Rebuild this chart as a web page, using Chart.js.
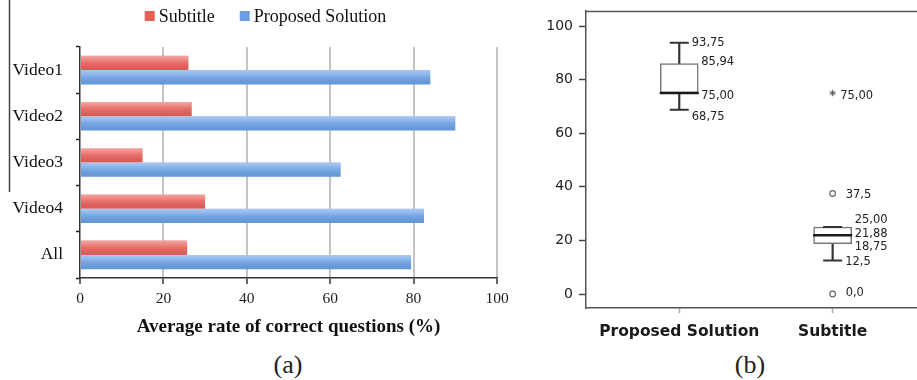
<!DOCTYPE html>
<html>
<head>
<meta charset="utf-8">
<script src="https://cdn.jsdelivr.net/npm/chart.js@4.4.1/dist/chart.umd.min.js"></script>
<style>
  html, body { margin: 0; padding: 0; background: #fff; width: 917px; height: 380px; overflow: hidden; }
  #wrapA { position: absolute; left: 0; top: 0; }
  #wrapB { position: absolute; left: 520px; top: 0; }
  .panel-tag { position: absolute; font-family: 'Liberation Serif', serif; font-size: 26px; color: #222;
               transform: translate(-50%, -50%); line-height: 1; }
</style>
</head>
<body>
<div id="wrapA"><canvas id="rates" width="520" height="341"></canvas></div>
<div id="wrapB"><canvas id="spread" width="397" height="345"></canvas></div>
<div class="panel-tag" style="left:288px; top:365px;">(a)</div>
<div class="panel-tag" style="left:750px; top:365px;">(b)</div>

<script>
// ---- (a) average rate of correct answers per video ----
const videos = ['Video1', 'Video2', 'Video3', 'Video4', 'All'];
const subtitleRate = [26, 26.8, 15, 30, 25.7];
const proposedRate = [84, 90, 62.5, 82.5, 79.4];
const rateTicks = [0, 20, 40, 60, 80, 100];

// ---- (b) score distribution per condition ----
const groups = ['Proposed Solution', 'Subtitle'];
const lowWhisker = [68.75, 12.5];
const lowerQuartile = [75.00, 18.75];
const medianScore = [75.00, 21.88];
const upperQuartile = [85.94, 25.00];
const highWhisker = [93.75, 25.00];
const mildOutliers = [[], [37.5, 0]];
const extremeOutliers = [[], [75]];
const scoreTicks = [0, 20, 40, 60, 80, 100];

const SERIF = 'Liberation Serif';
const SANS = 'DejaVu Sans';

// glossy highlight over each bar
const barSheen = {
  id: 'barSheen',
  afterDatasetsDraw(chart) {
    const ctx = chart.ctx;
    chart.data.datasets.forEach((ds, i) => {
      chart.getDatasetMeta(i).data.forEach(bar => {
        const { x, y, base, height } = bar.getProps(['x', 'y', 'base', 'height'], true);
        const top = y - height / 2;
        const g = ctx.createLinearGradient(0, top, 0, top + height);
        g.addColorStop(0, 'rgba(255,255,255,0.45)');
        g.addColorStop(0.45, 'rgba(255,255,255,0.12)');
        g.addColorStop(1, 'rgba(0,0,0,0.06)');
        ctx.save();
        ctx.fillStyle = g;
        ctx.fillRect(Math.min(base, x), top, Math.abs(x - base), height);
        ctx.restore();
      });
    });
  }
};

// thin rule at the far left edge
const sideRule = {
  id: 'sideRule',
  beforeDraw(chart) {
    const ctx = chart.ctx;
    ctx.save();
    ctx.strokeStyle = '#444';
    ctx.lineWidth = 1.5;
    ctx.beginPath();
    ctx.moveTo(9.5, 0);
    ctx.lineTo(9.5, 192);
    ctx.stroke();
    ctx.restore();
  }
};

// compact legend row above the bars
const serifLegend = {
  id: 'serifLegend',
  afterDraw(chart) {
    const ctx = chart.ctx;
    ctx.save();
    ctx.font = '18px "' + SERIF + '"';
    ctx.textBaseline = 'middle';
    ctx.textAlign = 'left';
    const box = 10, gapText = 4, gapItem = 25, cy = 16;
    const items = chart.data.datasets.map(d => ({
      text: d.label, color: d.backgroundColor,
      w: box + gapText + ctx.measureText(d.label).width
    }));
    const total = items.reduce((s, it) => s + it.w, 0) + gapItem * (items.length - 1);
    let x = 265.5 - total / 2;
    items.forEach(it => {
      ctx.fillStyle = it.color;
      ctx.fillRect(x, cy - box / 2, box, box);
      ctx.fillStyle = '#111';
      ctx.fillText(it.text, x + box + gapText, cy + 1);
      x += it.w + gapItem;
    });
    ctx.restore();
  }
};

new Chart(document.getElementById('rates'), {
  type: 'bar',
  data: {
    labels: videos,
    datasets: [
      { label: 'Subtitle', data: subtitleRate, backgroundColor: '#e6605a',
        categoryPercentage: 0.62, barPercentage: 1 },
      { label: 'Proposed Solution', data: proposedRate, backgroundColor: '#6a9fe4',
        categoryPercentage: 0.62, barPercentage: 1 }
    ]
  },
  options: {
    indexAxis: 'y',
    responsive: false,
    animation: false,
    events: [],
    layout: { autoPadding: false, padding: { top: 47, left: 0, right: 23, bottom: 0 } },
    plugins: { legend: { display: false }, tooltip: { enabled: false } },
    scales: {
      x: {
        type: 'linear', min: 0, max: 100,
        afterBuildTicks: s => { s.ticks = rateTicks.map(v => ({ value: v })); },
        grid: {
          color: c => (c.tick && c.tick.value === 0) ? 'rgba(0,0,0,0)' : '#c4c4c4',
          lineWidth: 2, tickColor: '#333', tickLength: 6, tickWidth: 1.5
        },
        border: { display: true, color: '#333', width: 1.5 },
        ticks: { font: { family: SERIF, size: 15.5 }, color: '#222', padding: 6 },
        title: {
          display: true, text: 'Average rate of correct questions (%)',
          font: { family: SERIF, size: 19, weight: 'bold' }, color: '#111',
          padding: { top: 4, bottom: 3 }
        },
        afterFit: s => { s.height = 63; }
      },
      y: {
        grid: { drawOnChartArea: false, offset: true, tickLength: 4, tickColor: '#222', tickWidth: 1.5 },
        border: { display: true, color: '#333', width: 1.5 },
        ticks: { font: { family: SERIF, size: 17.5 }, color: '#111', padding: 13 },
        afterFit: s => { s.width = 80; }
      }
    }
  },
  plugins: [sideRule, barSheen, serifLegend]
});

// top edge of the box-plot frame
const frameTop = {
  id: 'frameTop',
  afterDraw(chart) {
    const { left, right, top } = chart.chartArea;
    const ctx = chart.ctx;
    ctx.save();
    ctx.strokeStyle = '#555';
    ctx.lineWidth = 1.5;
    ctx.beginPath();
    ctx.moveTo(left, top + 0.5);
    ctx.lineTo(right, top + 0.5);
    ctx.stroke();
    ctx.restore();
  }
};

// value labels beside the box-plot marks
const valueNotes = {
  id: 'valueNotes',
  afterDatasetsDraw(chart) {
    const xs = chart.scales.x, ys = chart.scales.y, ctx = chart.ctx;
    const fmt = (v, d) => v.toFixed(d).replace('.', ',');
    const shift = { cap: 12.5, box: 22, dot: 13, star: 7.5 };
    const notes = [
      [0, highWhisker[0], 2, 'cap', 0],
      [0, upperQuartile[0], 2, 'box', -2],
      [0, medianScore[0], 2, 'box', 3],
      [0, lowWhisker[0], 2, 'cap', 7],
      [1, upperQuartile[1], 2, 'box', -7],
      [1, medianScore[1], 2, 'box', -1],
      [1, lowerQuartile[1], 2, 'box', 3],
      [1, lowWhisker[1], 1, 'cap', 1.5],
      [1, mildOutliers[1][0], 1, 'dot', 2],
      [1, mildOutliers[1][1], 1, 'dot', -1],
      [1, extremeOutliers[1][0], 2, 'star', 3]
    ];
    ctx.save();
    ctx.font = '11.5px "' + SANS + '"';
    ctx.fillStyle = '#222';
    ctx.textAlign = 'left';
    ctx.textBaseline = 'middle';
    notes.forEach(([g, v, d, kind, dy]) => {
      ctx.fillText(fmt(v, d), xs.getPixelForValue(g + 1) + shift[kind], ys.getPixelForValue(v) + dy);
    });
    ctx.restore();
  }
};

const at = (arr) => groups.map((g, i) => ({ x: i + 1, y: arr[i] }));
const spreadPoints = (lists) => lists.flatMap((vals, i) => vals.map(v => ({ x: i + 1, y: v })));

new Chart(document.getElementById('spread'), {
  type: 'bar',
  data: {
    datasets: [
      { type: 'scatter', label: 'Median', data: at(medianScore), pointStyle: 'line',
        radius: 19.5, borderWidth: 2.5, borderColor: '#1a1a1a', order: 0 },
      { type: 'scatter', label: 'Whisker ends', data: at(lowWhisker).concat(at(highWhisker)), pointStyle: 'line',
        radius: 9.5, borderWidth: 2, borderColor: '#333', order: 0 },
      { type: 'scatter', label: 'Outliers', data: spreadPoints(mildOutliers), pointStyle: 'circle',
        radius: 2.8, backgroundColor: '#fff', borderColor: '#666', borderWidth: 1.2, order: 0 },
      { type: 'scatter', label: 'Extremes', data: spreadPoints(extremeOutliers), pointStyle: 'star',
        radius: 3.2, borderColor: '#555', borderWidth: 1, order: 0 },
      { type: 'bar', label: 'Quartile box', data: groups.map((g, i) => ({ x: i + 1, y: [lowerQuartile[i], upperQuartile[i]] })),
        backgroundColor: '#fff', borderColor: '#777', borderWidth: 1.5, borderSkipped: false,
        barThickness: 38, grouped: false, order: 1 },
      { type: 'bar', label: 'Lower whisker', data: groups.map((g, i) => ({ x: i + 1, y: [lowWhisker[i], lowerQuartile[i]] })),
        backgroundColor: '#333', barThickness: 1.5, grouped: false, order: 2 },
      { type: 'bar', label: 'Upper whisker', data: groups.map((g, i) => ({ x: i + 1, y: [upperQuartile[i], highWhisker[i]] })),
        backgroundColor: '#333', barThickness: 1.5, grouped: false, order: 2 }
    ]
  },
  options: {
    responsive: false,
    animation: false,
    events: [],
    layout: { autoPadding: false, padding: { top: 11, left: 0, right: 0, bottom: 0 } },
    plugins: { legend: { display: false }, tooltip: { enabled: false } },
    scales: {
      x: {
        type: 'linear', min: 0.392, max: 2.55, offset: false,
        afterBuildTicks: s => { s.ticks = groups.map((g, i) => ({ value: i + 1 })); },
        grid: { offset: false, drawOnChartArea: false, tickLength: 5, tickColor: '#aaa', tickWidth: 1.5 },
        border: { display: true, color: '#555', width: 1.5 },
        ticks: {
          callback: v => groups[v - 1],
          font: { family: SANS, size: 15.5, weight: 'bold' }, color: '#1a1a1a', padding: 10
        },
        afterFit: s => { s.height = 37; s.paddingLeft = 0; s.paddingRight = 0; }
      },
      y: {
        type: 'linear', min: -5.22, max: 105.6,
        afterBuildTicks: s => { s.ticks = scoreTicks.map(v => ({ value: v })); },
        grid: { drawOnChartArea: false, tickLength: 7, tickColor: '#444', tickWidth: 1.5 },
        border: { display: true, color: '#555', width: 1.5 },
        ticks: { font: { family: SANS, size: 14 }, color: '#222', padding: 6 },
        afterFit: s => { s.width = 66; s.paddingTop = 0; s.paddingBottom = 0; }
      }
    }
  },
  plugins: [frameTop, valueNotes]
});
</script>
</body>
</html>
